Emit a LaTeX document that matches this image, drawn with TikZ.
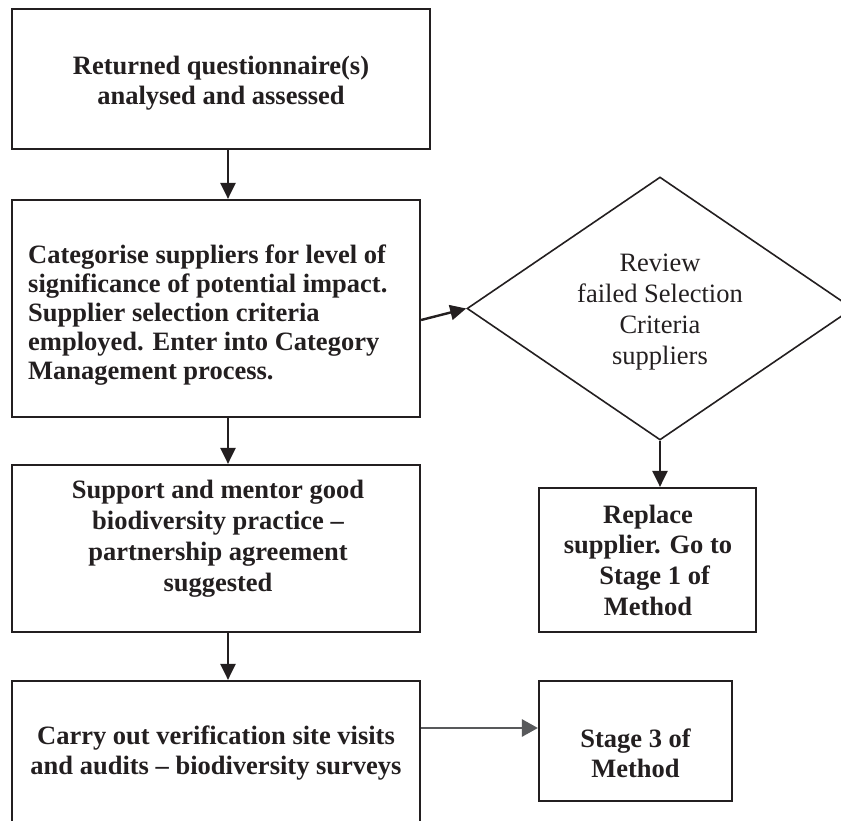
\documentclass[tikz,border=0pt]{standalone}
\usepackage{fontspec}
\setmainfont{Liberation Serif}
\usetikzlibrary{shapes.geometric,arrows.meta}
\definecolor{ink}{HTML}{231F20}
\definecolor{greyline}{HTML}{58595B}

\begin{document}
\begin{tikzpicture}[x=1pt,y=-1pt,
  box/.style={rectangle, draw=ink, line width=2.2pt, inner sep=0pt},
  boxtext/.style={text=ink, font=\fontsize{26.5}{30}\selectfont\bfseries, align=center, inner sep=0pt},
  plaintext/.style={text=ink, font=\fontsize{26.5}{31}\selectfont, align=center, inner sep=0pt},
  flow/.style={draw=ink, line width=2.4pt, -{Triangle[length=16pt,width=15pt]}},
  greyflow/.style={draw=greyline, line width=2.8pt, -{Triangle[length=16pt,width=17pt]}}
]
\useasboundingbox (0,0) rectangle (841,821);
\clip (0,0) rectangle (841,821);

% column of the main vertical connectors
\coordinate (spine) at (228,0);

% main column of process boxes
\node[box, minimum width=418pt, minimum height=140pt] (returned) at (221,79) {};
\node[boxtext] (returnedText) at (221,83)
  {Returned questionnaire(s)\\analysed and assessed};

\node[box, minimum width=408pt, minimum height=217pt] (categorise) at (216,308.5) {};
\node[boxtext, font=\fontsize{26.5}{29.2}\selectfont\bfseries, align=left, anchor=west] (categoriseText) at (28,315)
  {Categorise suppliers for level of\\significance of potential impact.\\Supplier selection criteria\\employed. Enter into Category\\Management process.};

\node[box, minimum width=408pt, minimum height=167pt] (support) at (216,548.5) {};
\node[boxtext, font=\fontsize{26.5}{31}\selectfont\bfseries] (supportText) at (218,538.5)
  {Support and mentor good\\biodiversity practice --\\partnership agreement\\suggested};

\node[box, minimum width=408pt, minimum height=146pt] (verify) at (216,754) {};
\node[boxtext] (verifyText) at (216,753)
  {Carry out verification site visits\\and audits -- biodiversity surveys};

% decision and its outcomes
\node[diamond, draw=ink, line width=1.6pt, minimum width=386pt, minimum height=263pt, inner sep=0pt] (review) at (660,308.5) {};
\node[plaintext] (reviewText) at (660,312)
  {Review\\failed Selection\\Criteria\\suppliers};

\node[box, minimum width=217pt, minimum height=144pt] (replace) at (647.5,560) {};
\node[boxtext, font=\fontsize{26.5}{30.7}\selectfont\bfseries] (replaceText) at (648,560)
  {Replace\\supplier. Go to\\\hspace*{0.5em}Stage 1 of\\Method};

\node[box, minimum width=193pt, minimum height=120pt] (stage) at (635.5,741) {};
\node[boxtext] (stageText) at (635.5,753.5)
  {Stage 3 of\\Method};

% connectors
\draw[flow] (returned.south -| spine) -- (categorise.north -| spine);
\draw[flow] (categorise.south -| spine) -- (support.north -| spine);
\draw[flow] (support.south -| spine) -- (verify.north -| spine);
\draw[flow] ([yshift=-11.5pt]categorise.east) -- (review.west);
\draw[flow] (review.south) -- (review.south |- replace.north);
\coordinate (stageIn) at ([yshift=13pt]stage.west);
\draw[greyflow] (verify.east |- stageIn) -- (stageIn);
\end{tikzpicture}
\end{document}
